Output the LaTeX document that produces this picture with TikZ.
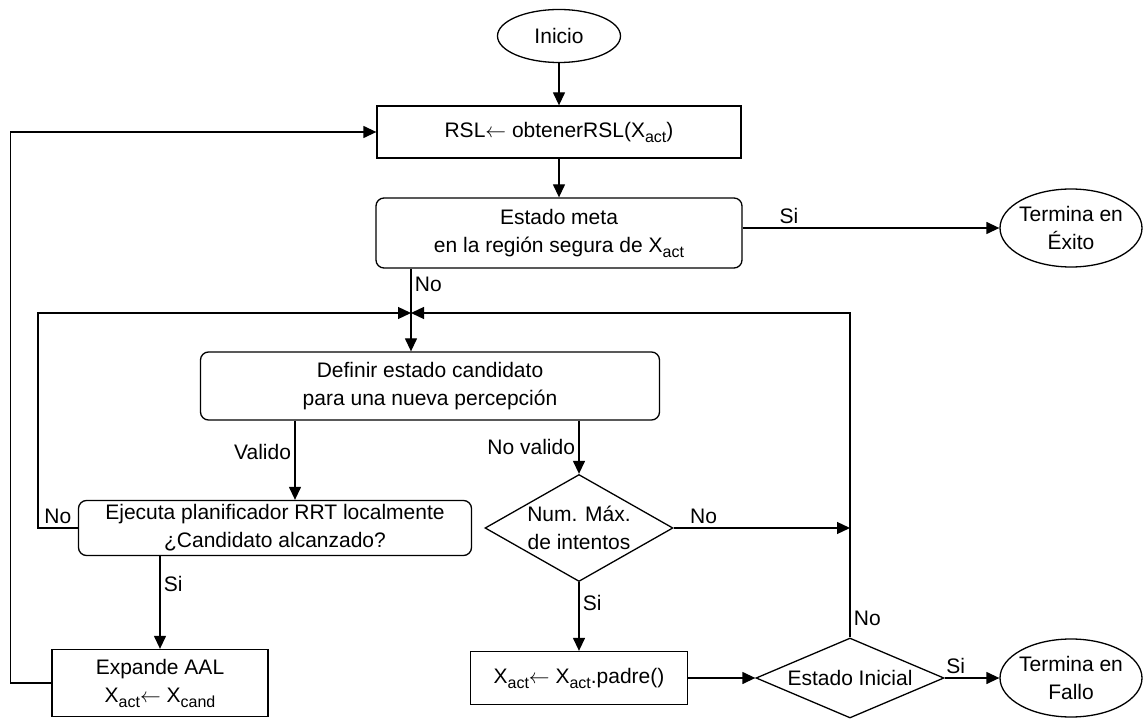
\documentclass[tikz,border=0pt]{standalone}
\usepackage{fontspec}
\setmainfont{Liberation Sans}
\usetikzlibrary{shapes.geometric,arrows.meta}
\newcommand{\xsub}[1]{X\raisebox{-5pt}{\fontsize{16}{16}\selectfont #1}}
\newcommand{\asg}{$\leftarrow$}

\begin{document}
\begin{tikzpicture}[x=1pt, y=-1pt, line width=1.3pt,
    font=\fontsize{21}{28}\selectfont,
    >={Triangle[length=13pt,width=12pt]},
    proc/.style={rectangle, draw, align=center, inner sep=0pt},
    rproc/.style={rectangle, rounded corners=8pt, draw, align=center, inner sep=0pt},
    term/.style={ellipse, draw, align=center, inner xsep=-3pt, inner ysep=0pt},
    dec/.style={diamond, draw, align=center, inner sep=0pt}]
    \useasboundingbox (0,0) rectangle (1144,719);

    % ノードの定義
    \node[term, minimum width=123pt, minimum height=53pt] (ini) at (559,36) {Inicio};
    \node[proc, minimum width=364pt, minimum height=52pt] (rsl) at (559,132) {RSL\asg{} obtenerRSL(\xsub{act})};
    \node[rproc, minimum width=366pt, minimum height=70pt] (meta) at (559,233) {Estado meta\\en la región segura de \xsub{act}};
    \node[term, minimum width=142pt, minimum height=78pt] (exito) at (1071,228) {Termina en\\Éxito};
    \coordinate (J) at (411,313);
    \node[rproc, minimum width=459pt, minimum height=68pt] (defn) at (430,386) {Definir estado candidato\\para una nueva percepción};
    \node[rproc, minimum width=393pt, minimum height=55pt] (ejec) at (275,528) {Ejecuta planificador RRT localmente\\¿Candidato alcanzado?};
    \node[dec, aspect=1.76, minimum width=188pt, minimum height=107pt] (maxi) at (579,528) {Num. Máx.\\de intentos};
    \node[proc, minimum width=216pt, minimum height=67pt] (expd) at (160,683) {Expande AAL\\\xsub{act}\asg{} \xsub{cand}};
    \node[proc, minimum width=217pt, minimum height=53pt] (padre) at (579,678) {\xsub{act}\asg{} \xsub{act}.padre()};
    \node[dec, aspect=2.35, minimum width=188pt, minimum height=80pt] (ini2) at (850,678) {Estado Inicial};
    \node[term, minimum width=142pt, minimum height=78pt] (fallo) at (1071,678) {Termina en\\Fallo};

    % エッジの定義
    \draw[->] (ini) -- (rsl);
    \draw[->] (rsl) -- (meta);
    \draw[->] (meta.east |- exito) -- node[above, pos=0.18] {Si} (exito);
    \draw (meta.south -| J) -- node[right, pos=0.35] {No} (J);
    \draw[->] (J) -- (defn.north -| J);
    \draw[->] ([xshift=-135pt]defn.south) -- node[left, pos=0.4] {Valido} ([xshift=-135pt]defn.south |- ejec.north);
    \draw[->] (defn.south -| maxi.north) -- node[left] {No valido} (maxi.north);
    \draw[->] (ejec.west) -- node[above] {No} ++(-40,0) |- (J); % 再試行のループ
    \draw[->] (ejec.south -| expd.north) -- node[right, pos=0.3] {Si} (expd.north);
    \draw[->] (expd.west) -- ++(-41,0) |- (rsl.west);
    \draw[->] (maxi.east) -- node[above, pos=0.17] {No} (maxi.east -| ini2.north);
    \draw[->] (maxi) -- node[right, pos=0.3] {Si} (padre);
    \draw[->] (padre) -- (ini2);
    \draw[->] (ini2.north) -- node[right, pos=0.06] {No} (ini2.north |- J) -- (J);
    \draw[->] (ini2) -- node[above, pos=0.2] {Si} (fallo);
\end{tikzpicture}
\end{document}
